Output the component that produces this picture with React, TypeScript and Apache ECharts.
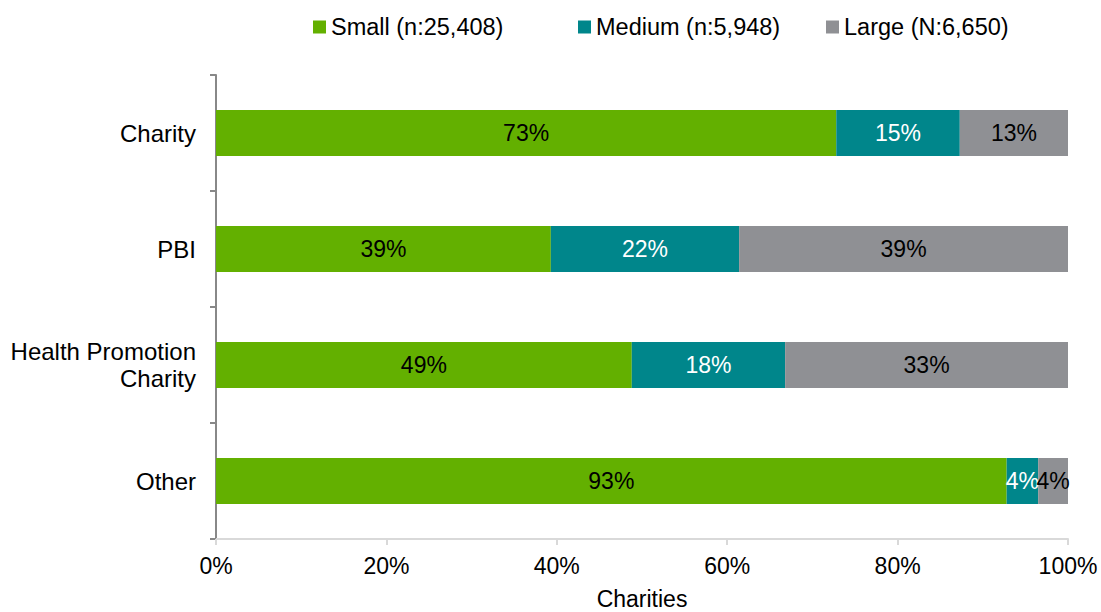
import React, { useEffect, useRef } from "react";
import * as echarts from "echarts";

const categories = ["Charity", "PBI", "Health Promotion\nCharity", "Other"];
const seriesNames = ["Small (n:25,408)", "Medium (n:5,948)", "Large (N:6,650)"];
const smallValues = [72.8, 39.3, 48.8, 92.8];
const mediumValues = [14.5, 22.1, 18.0, 3.7];
const largeValues = [12.7, 38.6, 33.2, 3.5];
const xTicks = [0, 20, 40, 60, 80, 100];
const colors = ["#63b000", "#00868b", "#8f9094"];
const labelColors = ["#000000", "#ffffff", "#000000"];
const legendLefts = [313, 578, 826];

const FONT = "'Liberation Sans', Arial, sans-serif";

export default function App() {
  const ref = useRef<HTMLDivElement>(null);
  useEffect(() => {
    if (!ref.current) return;
    const chart = echarts.init(ref.current, null, { renderer: "svg" });
    const values = [smallValues, mediumValues, largeValues];
    chart.setOption({
      animation: false,
      textStyle: { fontFamily: FONT },
      legend: seriesNames.map((name, i) => ({
        top: 15,
        left: legendLefts[i],
        padding: 0,
        itemWidth: 13,
        itemHeight: 13,
        icon: "rect",
        textStyle: { fontSize: 23.5, color: "#000", fontFamily: FONT },
        data: [name],
      })),
      grid: { left: 216, right: 33, top: 75, bottom: 73, outerBoundsMode: "none", containLabel: false },
      xAxis: {
        type: "value",
        min: xTicks[0],
        max: xTicks[xTicks.length - 1],
        interval: 20,
        name: "Charities",
        nameLocation: "middle",
        nameGap: 50,
        nameTextStyle: { fontSize: 23, color: "#000", fontFamily: FONT, lineHeight: 20 },
        axisLine: { show: true, lineStyle: { color: "#d9d9d9", width: 2 } },
        axisTick: { show: true, length: 6, lineStyle: { color: "#d9d9d9", width: 2 } },
        splitLine: { show: false },
        axisLabel: {
          fontSize: 23,
          color: "#000",
          fontFamily: FONT,
          margin: 15,
          formatter: (v: number) => v + "%",
        },
      },
      yAxis: {
        type: "category",
        inverse: true,
        data: categories,
        axisLine: { show: true, lineStyle: { color: "#888888", width: 2 } },
        axisTick: { show: true, length: 6, lineStyle: { color: "#888888", width: 2 } },
        axisLabel: {
          fontSize: 24,
          color: "#000",
          fontFamily: FONT,
          margin: 20,
          lineHeight: 27,
          align: "right",
        },
      },
      series: seriesNames.map((name, i) => ({
        name,
        type: "bar",
        stack: "total",
        barWidth: 46,
        data: values[i],
        itemStyle: { color: colors[i] },
        label: {
          show: true,
          position: "inside",
          fontSize: 23,
          fontFamily: FONT,
          color: labelColors[i],
          formatter: (p: any) => Math.round(p.value) + "%",
        },
      })),
    });
    return () => chart.dispose();
  }, []);
  return (
    <div
      ref={ref}
      style={{ position: "fixed", left: 0, top: 0, width: 1101, height: 612, background: "#fff" }}
    />
  );
}
